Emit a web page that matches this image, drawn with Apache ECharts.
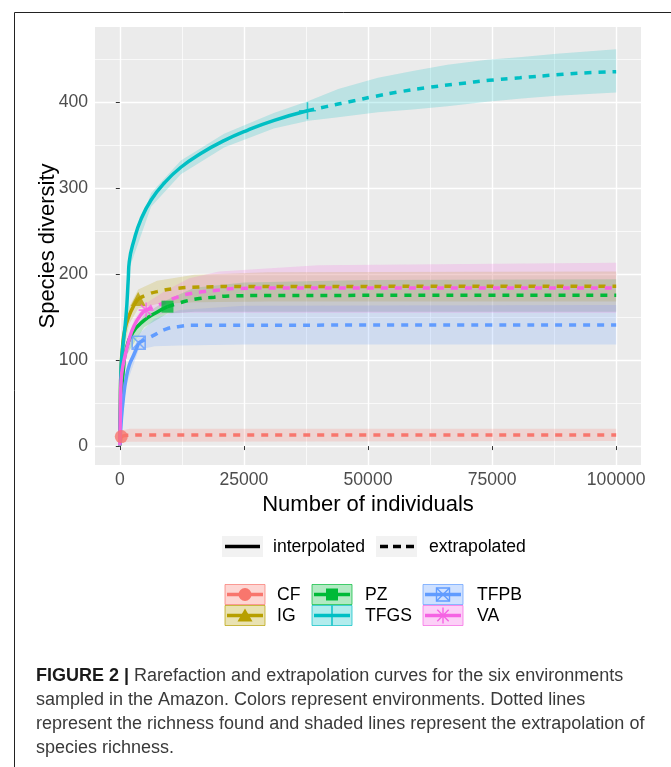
<!DOCTYPE html>
<html>
<head>
<meta charset="utf-8">
<script src="https://cdn.jsdelivr.net/npm/echarts@6.0.0/dist/echarts.min.js"></script>
<style>
  html, body { margin: 0; padding: 0; background: #fff; }
  #chart { width: 671px; height: 767px; }
</style>
</head>
<body>
<div id="chart"></div>
<script>
// axis ticks
var xTicks = [0, 25000, 50000, 75000, 100000];
var xMinor = [12500, 37500, 62500, 87500];
var yTicks = [0, 100, 200, 300, 400];
var yMinor = [50, 150, 250, 350, 450];

// [individuals, species] -- interpolated (solid) and extrapolated (dashed)
var cfInter = [[0, 1], [100, 5], [200, 8.5], [300, 11]];
var cfExtra = [[300, 11], [1500, 12.5], [5000, 13], [100000, 13]];
var igInter = [[0, 1], [100, 50], [250, 90], [550, 116], [1000, 135], [1900, 152], [2900, 164], [3700, 171]];
var igExtra = [[3700, 171], [5500, 176], [7500, 179.5], [11000, 183], [16000, 184.8], [25000, 185.4], [100000, 185.7]];
var pzInter = [[0, 1], [150, 40], [300, 60], [700, 88], [1250, 112], [2600, 132], [4900, 146], [7300, 155], [9600, 162]];
var pzExtra = [[9600, 162], [13000, 168], [16000, 171.4], [19000, 173], [22000, 174.4], [30000, 175], [100000, 175.3]];
var tfgsInter = [[0, 1], [100, 45], [240, 90], [560, 113], [1250, 151], [1700, 194], [1900, 214], [2900, 240],
  [4300, 264], [6300, 286], [9000, 306], [12300, 324], [16300, 340], [21000, 355], [25700, 367], [31100, 378.5], [37800, 389.6]];
var tfgsExtra = [[37800, 389.6], [41600, 394.5], [47400, 401.5], [50600, 405.5], [56700, 412], [62500, 417], [68300, 421],
  [74400, 425], [80600, 428], [89300, 432], [95000, 434], [100000, 435]];
var tfpbInter = [[0, 1], [300, 30], [700, 55], [1250, 78], [1900, 94], [2900, 107], [3800, 120]];
var tfpbExtra = [[3800, 120], [6600, 128], [9300, 136], [12000, 139], [15000, 140.3], [100000, 140.8]];
var vaInter = [[0, 1], [100, 40], [240, 75], [900, 101], [1900, 124.5], [2900, 140], [4300, 153], [5300, 158]];
var vaExtra = [[5300, 158], [9000, 166.8], [11300, 172.6], [14000, 177], [17000, 179.5], [20000, 181.3], [23000, 183],
  [30000, 183.6], [100000, 183.8]];

// confidence bands [individuals, lower, upper]
var cfBand = [[0, 0, 3], [300, 4, 18], [2000, 5, 20], [100000, 6, 20]];
var igBand = [[0, 0, 2], [550, 105, 125], [1900, 142, 162], [3700, 160, 182], [7500, 165, 192], [15000, 167, 199],
  [30000, 168, 202], [100000, 168, 203]];
var pzBand = [[0, 0, 2], [1250, 105, 121], [4900, 138, 153], [9600, 154, 170], [15000, 156, 184], [25000, 156, 190],
  [50000, 156, 193], [100000, 156, 194]];
var tfgsBand = [[0, 0, 2], [1900, 206, 222], [6300, 278, 294], [12300, 316, 332], [21000, 347, 363], [31000, 369, 387],
  [38000, 378, 401], [44000, 382, 415], [52000, 388, 428], [59000, 391, 436], [66000, 395, 443], [74000, 400, 449],
  [81000, 404, 452], [88000, 407, 456], [100000, 411, 461]];
var tfpbBand = [[0, 0, 2], [1250, 70, 86], [3800, 112, 130], [7000, 116, 148], [12000, 117, 158], [25000, 118, 163],
  [100000, 118, 164]];
var vaBand = [[0, 0, 2], [1000, 95, 107], [2900, 133, 147], [5300, 150, 166], [9000, 154, 180], [14000, 155, 195],
  [20000, 155, 203], [40000, 155, 210], [100000, 155, 213]];

var FONT = '"Liberation Sans", Arial, sans-serif';
var plusPath = 'path://M5,0L5,10M0,5L10,5';
var boxXPath = 'path://M0,0L10,0L10,10L0,10ZM0,0L10,10M10,0L0,10';
var starPath = 'path://M5,0L5,10M0,5L10,5M1.5,1.5L8.5,8.5M8.5,1.5L1.5,8.5';

var envs = [
  { name: 'CF', color: '#F8766D', inter: cfInter, extra: cfExtra, band: cfBand, symbol: 'circle', size: 13, stroke: false },
  { name: 'IG', color: '#B79F00', inter: igInter, extra: igExtra, band: igBand, symbol: 'triangle', size: [15, 14], stroke: false },
  { name: 'PZ', color: '#00BA38', inter: pzInter, extra: pzExtra, band: pzBand, symbol: 'rect', size: 12, stroke: false },
  { name: 'TFGS', color: '#00BFC4', inter: tfgsInter, extra: tfgsExtra, band: tfgsBand, symbol: plusPath, size: 17, stroke: true },
  { name: 'TFPB', color: '#619CFF', inter: tfpbInter, extra: tfpbExtra, band: tfpbBand, symbol: boxXPath, size: 13, stroke: true },
  { name: 'VA', color: '#F564E3', inter: vaInter, extra: vaExtra, band: vaBand, symbol: starPath, size: 15, stroke: true }
];

function hexA(hex, a) {
  var r = parseInt(hex.slice(1, 3), 16), g = parseInt(hex.slice(3, 5), 16), b = parseInt(hex.slice(5, 7), 16);
  return 'rgba(' + r + ',' + g + ',' + b + ',' + a + ')';
}

var series = [];
// ribbons first
envs.forEach(function (e) {
  series.push({
    type: 'custom', name: e.name + ' band', silent: true, z: 1,
    data: e.band,
    encode: { x: 0, y: [1, 2] },
    renderItem: function (params, api) {
      if (params.dataIndex !== 0) return;
      var up = e.band.map(function (p) { return api.coord([p[0], p[2]]); });
      var lo = e.band.map(function (p) { return api.coord([p[0], p[1]]); }).reverse();
      return { type: 'polygon', shape: { points: up.concat(lo) }, style: { fill: hexA(e.color, 0.2) } };
    }
  });
});
envs.forEach(function (e) {
  series.push({
    type: 'line', name: e.name, data: e.extra, showSymbol: false, silent: true, z: 3,
    smooth: 0.5,
    lineStyle: { color: e.color, width: 3.5, type: [7, 7], cap: 'butt' }
  });
  series.push({
    type: 'line', name: e.name, data: e.inter, showSymbol: false, silent: true, z: 4,
    smooth: 0.5,
    lineStyle: { color: e.color, width: 3.5 }
  });
});
envs.forEach(function (e) {
  var last = e.inter[e.inter.length - 1];
  series.push({
    type: 'scatter', name: e.name, data: [last], symbol: e.symbol, symbolSize: e.size, z: 5, silent: true,
    itemStyle: e.stroke ? { color: 'rgba(0,0,0,0)', borderColor: e.color, borderWidth: 1.6 } : { color: e.color }
  });
});

// legend graphics
var graphic = [];
// frame
graphic.push({ type: 'polyline', shape: { points: [[14.5, 800], [14.5, 12.5], [700, 12.5]] }, style: { stroke: '#222', lineWidth: 1, fill: null } });

// line type legend
graphic.push({ type: 'rect', shape: { x: 222, y: 536, width: 41, height: 21 }, style: { fill: '#F2F2F2' } });
graphic.push({ type: 'line', shape: { x1: 225, y1: 546.5, x2: 260, y2: 546.5 }, style: { stroke: '#000', lineWidth: 3.5 } });
graphic.push({ type: 'text', x: 273, y: 547, style: { text: 'interpolated', font: '17.6px ' + FONT, fill: '#000', verticalAlign: 'middle' } });
graphic.push({ type: 'rect', shape: { x: 376, y: 536, width: 41, height: 21 }, style: { fill: '#F2F2F2' } });
graphic.push({ type: 'line', shape: { x1: 380, y1: 546.5, x2: 414, y2: 546.5 }, style: { stroke: '#000', lineWidth: 3.5, lineDash: [8, 5] } });
graphic.push({ type: 'text', x: 429, y: 547, style: { text: 'extrapolated', font: '17.6px ' + FONT, fill: '#000', verticalAlign: 'middle' } });

// environment legend: column-major 3 columns x 2 rows
var colBox = [225, 312, 423], colText = [277, 365, 477], rowBox = [584.5, 605.5];
envs.forEach(function (e, i) {
  var c = Math.floor(i / 2), r = i % 2;
  var bx = colBox[c], by = rowBox[r], cx = bx + 20, cy = by + 10;
  graphic.push({ type: 'rect', shape: { x: bx, y: by, width: 40, height: 20 }, style: { fill: hexA(e.color, 0.3), stroke: hexA(e.color, 0.7), lineWidth: 1 } });
  graphic.push({ type: 'line', shape: { x1: bx + 2, y1: cy, x2: bx + 38, y2: cy }, style: { stroke: e.color, lineWidth: 3.5 } });
  var st = { stroke: e.color, lineWidth: 1.4, fill: null };
  if (e.name === 'CF') graphic.push({ type: 'circle', shape: { cx: cx, cy: cy, r: 6.5 }, style: { fill: e.color } });
  if (e.name === 'IG') graphic.push({ type: 'polygon', shape: { points: [[cx, cy - 7], [cx + 7.5, cy + 6], [cx - 7.5, cy + 6]] }, style: { fill: e.color } });
  if (e.name === 'PZ') graphic.push({ type: 'rect', shape: { x: cx - 6, y: cy - 6, width: 12, height: 12 }, style: { fill: e.color } });
  if (e.name === 'TFGS') graphic.push({ type: 'line', shape: { x1: cx, y1: by, x2: cx, y2: by + 20 }, style: st });
  if (e.name === 'TFPB') {
    graphic.push({ type: 'rect', shape: { x: cx - 6.5, y: cy - 6.5, width: 13, height: 13 }, style: st });
    graphic.push({ type: 'polyline', shape: { points: [[cx - 6.5, cy - 6.5], [cx + 6.5, cy + 6.5]] }, style: st });
    graphic.push({ type: 'polyline', shape: { points: [[cx + 6.5, cy - 6.5], [cx - 6.5, cy + 6.5]] }, style: st });
  }
  if (e.name === 'VA') {
    graphic.push({ type: 'line', shape: { x1: cx, y1: cy - 8, x2: cx, y2: cy + 8 }, style: st });
    graphic.push({ type: 'line', shape: { x1: cx - 8, y1: cy, x2: cx + 8, y2: cy }, style: st });
    graphic.push({ type: 'line', shape: { x1: cx - 5.7, y1: cy - 5.7, x2: cx + 5.7, y2: cy + 5.7 }, style: st });
    graphic.push({ type: 'line', shape: { x1: cx + 5.7, y1: cy - 5.7, x2: cx - 5.7, y2: cy + 5.7 }, style: st });
  }
  graphic.push({ type: 'text', x: colText[c], y: cy + 1, style: { text: e.name, font: '17.6px ' + FONT, fill: '#000', verticalAlign: 'middle' } });
});

// caption
var capLines = [
  '{b|FIGURE 2 |} Rarefaction and extrapolation curves for the six environments',
  'sampled in the Amazon. Colors represent environments. Dotted lines',
  'represent the richness found and shaded lines represent the extrapolation of',
  'species richness.'
];
capLines.forEach(function (t, i) {
  graphic.push({
    type: 'text', x: 36, y: 676 + i * 24,
    style: {
      text: t, font: '18px ' + FONT, fill: '#3a3a3a', verticalAlign: 'middle',
      rich: { b: { fontWeight: 'bold', fontSize: 18, fontFamily: FONT, fill: '#1a1a1a' } }
    }
  });
});

var chart = echarts.init(document.getElementById('chart'));
chart.setOption({
  animation: false,
  backgroundColor: '#fff',
  grid: { left: 95, top: 27, width: 546, height: 438, show: true, backgroundColor: '#EBEBEB', borderWidth: 0 },
  xAxis: [
    {
      type: 'value', min: -5000, max: 105000,
      name: 'Number of individuals', nameLocation: 'middle', nameGap: 27,
      nameTextStyle: { fontFamily: FONT, fontSize: 22, color: '#000' },
      axisLine: { show: false },
      axisTick: { show: true, length: 4, customValues: xTicks, lineStyle: { color: '#333', width: 1 } },
      axisLabel: {
        customValues: xTicks, fontFamily: FONT, fontSize: 17.6, color: '#4D4D4D', margin: 6,
        formatter: function (v) { return String(v); }
      },
      splitLine: { show: true, lineStyle: { color: '#fff', width: 1.4 } }
    },
    {
      type: 'value', min: -5000, max: 105000, position: 'bottom',
      axisLine: { show: false }, axisLabel: { show: false },
      axisTick: { show: false, customValues: xMinor },
      splitLine: { show: true, lineStyle: { color: '#fff', width: 0.7 } }
    }
  ],
  yAxis: [
    {
      type: 'value', min: -22, max: 487,
      name: 'Species diversity', nameLocation: 'middle', nameGap: 36, nameMoveOverlap: false,
      nameTextStyle: { fontFamily: FONT, fontSize: 22, color: '#000' },
      axisLine: { show: false },
      axisTick: { show: true, length: 4, customValues: yTicks, lineStyle: { color: '#333', width: 1 } },
      axisLabel: { customValues: yTicks, fontFamily: FONT, fontSize: 17.6, color: '#4D4D4D', margin: 7 },
      splitLine: { show: true, lineStyle: { color: '#fff', width: 1.4 } }
    },
    {
      type: 'value', min: -22, max: 487, position: 'left',
      axisLine: { show: false }, axisLabel: { show: false },
      axisTick: { show: false, customValues: yMinor },
      splitLine: { show: true, lineStyle: { color: '#fff', width: 0.7 } }
    }
  ],
  series: series,
  graphic: graphic
});
</script>
</body>
</html>
